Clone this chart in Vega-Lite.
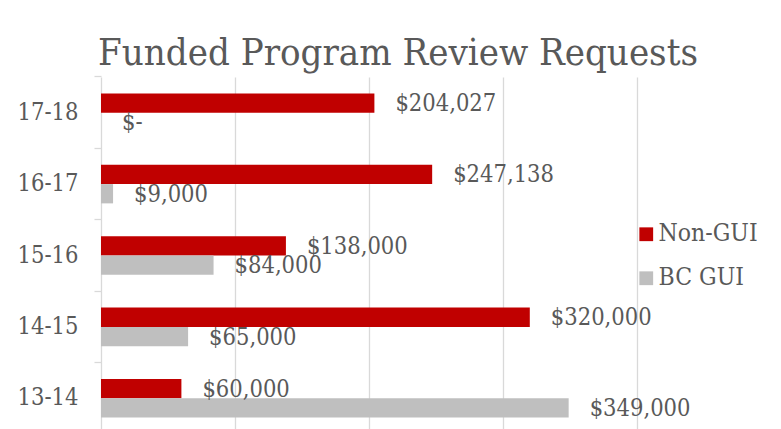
{
  "$schema": "https://vega.github.io/schema/vega-lite/v6.json",
  "autosize": "none",
  "width": 536,
  "height": 357,
  "padding": {"left": 101, "top": 77, "right": 144, "bottom": -5},
  "background": "white",
  "title": {
    "text": "Funded Program Review Requests",
    "font": "DejaVu Serif Condensed",
    "fontSize": 38,
    "fontWeight": "normal",
    "color": "#595959",
    "anchor": "middle",
    "frame": "group",
    "baseline": "alphabetic",
    "offset": -28,
    "dx": 29
  },
  "config": {
    "view": {"stroke": null},
    "font": "DejaVu Serif Condensed"
  },
  "data": {
    "values": [
      {"year": "17-18", "series": "Non-GUI", "amount": 204027},
      {"year": "17-18", "series": "BC GUI", "amount": 0},
      {"year": "16-17", "series": "Non-GUI", "amount": 247138},
      {"year": "16-17", "series": "BC GUI", "amount": 9000},
      {"year": "15-16", "series": "Non-GUI", "amount": 138000},
      {"year": "15-16", "series": "BC GUI", "amount": 84000},
      {"year": "14-15", "series": "Non-GUI", "amount": 320000},
      {"year": "14-15", "series": "BC GUI", "amount": 65000},
      {"year": "13-14", "series": "Non-GUI", "amount": 60000},
      {"year": "13-14", "series": "BC GUI", "amount": 349000}
    ]
  },
  "encoding": {
    "y": {
      "field": "year",
      "type": "nominal",
      "sort": ["17-18", "16-17", "15-16", "14-15", "13-14"],
      "scale": {"paddingInner": 0.46, "paddingOuter": 0.23},
      "title": null
    },
    "yOffset": {
      "field": "series",
      "type": "nominal",
      "sort": ["Non-GUI", "BC GUI"],
      "scale": {"paddingInner": 0, "paddingOuter": 0}
    },
    "x": {
      "field": "amount",
      "type": "quantitative",
      "scale": {"domain": [0, 400000], "nice": false},
      "title": null,
      "axis": {
        "values": [0, 100000, 200000, 300000, 400000],
        "labels": false,
        "ticks": false,
        "domain": false,
        "grid": true,
        "gridColor": "#D9D9D9",
        "gridWidth": 1.3
      }
    }
  },
  "layer": [
    {
      "mark": {"type": "bar"},
      "encoding": {
        "y": {
          "field": "year",
          "type": "nominal",
          "sort": ["17-18", "16-17", "15-16", "14-15", "13-14"],
          "title": null,
          "axis": {
            "orient": "left",
            "ticks": false,
            "domain": false,
            "labelFont": "DejaVu Serif Condensed",
            "labelFontSize": 23.5,
            "labelColor": "#595959",
            "labelPadding": 23
          }
        },
        "color": {
          "field": "series",
          "type": "nominal",
          "scale": {"domain": ["Non-GUI", "BC GUI"], "range": ["#C00000", "#BFBFBF"]},
          "legend": {
            "title": null,
            "orient": "none",
            "legendX": 533,
            "legendY": 145,
            "padding": 0,
            "symbolType": "square",
            "symbolSize": 190,
            "symbolStrokeWidth": 0,
            "labelFont": "DejaVu Serif Condensed",
            "labelFontSize": 24.5,
            "labelColor": "#595959",
            "labelOffset": 0,
            "rowPadding": 19
          }
        }
      }
    },
    {
      "transform": [
        {"calculate": "datum.amount == 0 ? '$-' : '$' + format(datum.amount, ',')", "as": "label"}
      ],
      "mark": {
        "type": "text",
        "align": "left",
        "baseline": "middle",
        "dx": 21,
        "dy": 1,
        "font": "DejaVu Serif Condensed",
        "fontSize": 23.5,
        "color": "#595959"
      },
      "encoding": {
        "y": {
          "field": "year",
          "type": "nominal",
          "sort": ["17-18", "16-17", "15-16", "14-15", "13-14"],
          "title": null,
          "axis": {
            "orient": "left",
            "labels": false,
            "domain": false,
            "ticks": true,
            "tickSize": 7,
            "tickColor": "#D9D9D9",
            "tickWidth": 1.3,
            "bandPosition": -0.426
          }
        },
        "text": {"field": "label"}
      }
    }
  ],
  "resolve": {"axis": {"y": "independent"}}
}
